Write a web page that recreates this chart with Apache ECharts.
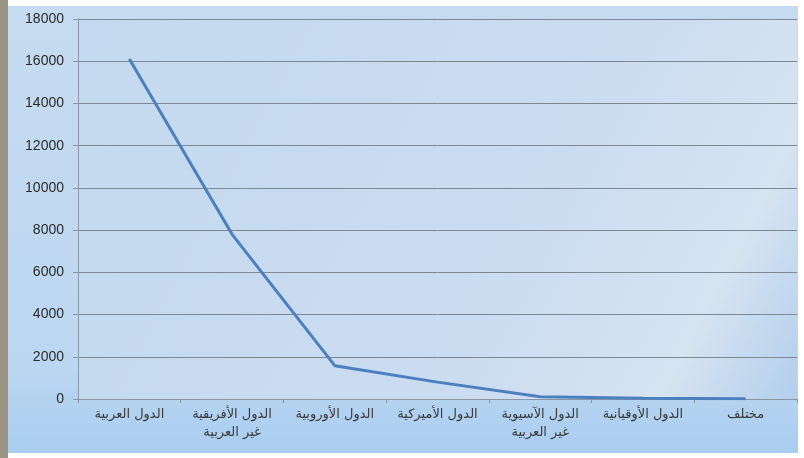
<!DOCTYPE html>
<html>
<head>
<meta charset="utf-8">
<script src="https://cdn.jsdelivr.net/npm/echarts@6/dist/echarts.min.js"></script>
<style>
html,body{margin:0;padding:0;background:#ffffff;}
#chart{width:804px;height:458px;}
</style>
</head>
<body>
<div id="chart"></div>
<script>
const categories = [
  "الدول العربية",
  "الدول الأفريقية\nغير العربية",
  "الدول الأوروبية",
  "الدول الأميركية",
  "الدول الآسيوية\nغير العربية",
  "الدول الأوقيانية",
  "مختلف"
];
const values = [16100, 7800, 1580, 800, 110, 40, 10];
const yTicks = { min: 0, max: 18000, interval: 2000 };

const chart = echarts.init(document.getElementById('chart'));
chart.setOption({
  animation: false,
  backgroundColor: '#ffffff',
  graphic: [
    { type: 'rect', left: 0, top: 0, z: -10, silent: true,
      shape: { width: 8, height: 458 },
      style: { fill: '#9a9283' } },
    { type: 'rect', left: 8, top: 6, z: -10, silent: true,
      shape: { width: 790, height: 447 },
      style: { fill: new echarts.graphic.LinearGradient(0, 0, 0, 1, [
        { offset: 0, color: '#c6dbf0' },
        { offset: 0.8, color: '#bcd7f1' },
        { offset: 1, color: '#a9cdf0' }
      ]) } }
  ],
  grid: {
    left: 78, right: 7, top: 19, bottom: 59,
    show: true,
    backgroundColor: new echarts.graphic.LinearGradient(0, 0, 1, 1, [
      { offset: 0, color: '#c4d9ef' },
      { offset: 0.6, color: '#cadcf0' },
      { offset: 0.85, color: '#d6e3f1' },
      { offset: 1, color: '#b2cfec' }
    ]),
    borderWidth: 0
  },
  xAxis: {
    type: 'category',
    data: categories,
    boundaryGap: true,
    axisLine: { lineStyle: { color: '#8a96a3', width: 1 } },
    axisTick: { show: true, length: 4, lineStyle: { color: '#8a96a3' } },
    axisLabel: {
      color: '#3a3a3a',
      fontFamily: 'DejaVu Sans',
      fontSize: 13,
      lineHeight: 18,
      margin: 7,
      interval: 0
    }
  },
  yAxis: {
    type: 'value',
    min: yTicks.min, max: yTicks.max, interval: yTicks.interval,
    axisLine: { show: true, lineStyle: { color: '#8a96a3', width: 1 } },
    axisTick: { show: true, length: 5, lineStyle: { color: '#8a96a3' } },
    splitLine: { show: true, lineStyle: { color: '#7c8894', width: 1 } },
    axisLabel: {
      color: '#2a2a2a',
      fontFamily: 'Liberation Sans',
      fontSize: 14,
      margin: 14,
      formatter: function (v) { return String(v); }
    }
  },
  series: [{
    type: 'line',
    data: values,
    symbol: 'none',
    lineStyle: { color: '#4c7fbd', width: 3 },
    itemStyle: { color: '#4c7fbd' }
  }]
});
</script>
</body>
</html>
